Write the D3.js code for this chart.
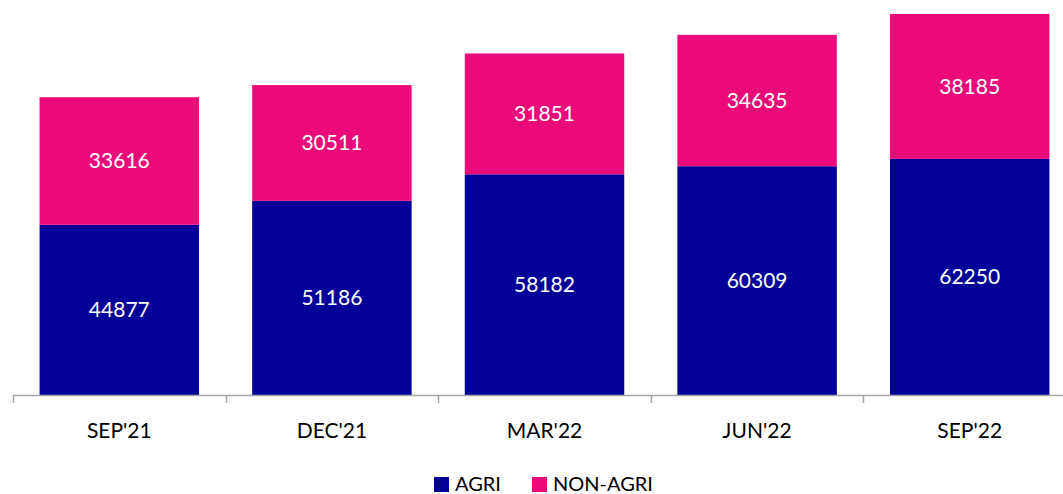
<!DOCTYPE html>
<html>
<head>
<meta charset="utf-8">
<script src="https://cdn.jsdelivr.net/npm/d3@7"></script>
<style>
  html, body { margin: 0; padding: 0; background: #fff; }
  svg { display: block; font-family: Lato, "Open Sans", sans-serif; }
</style>
</head>
<body>
<svg id="chart" width="1063" height="494"></svg>
<script>
// Quarter labels and stacked series values
const categories = ["SEP'21", "DEC'21", "MAR'22", "JUN'22", "SEP'22"];
const agri = [44877, 51186, 58182, 60309, 62250];
const nonAgri = [33616, 30511, 31851, 34635, 38185];
const seriesNames = ["AGRI", "NON-AGRI"];
const seriesColors = ["#000099", "#EC0A7A"];

const svg = d3.select("#chart");
const baseY = 395;
const plotLeft = 13;
const step = 212.6;

const rows = categories.map((c, i) => ({ cat: c, AGRI: agri[i], "NON-AGRI": nonAgri[i] }));
const stacked = d3.stack().keys(seriesNames)(rows);

const x = d3.scaleBand()
  .domain(categories)
  .range([plotLeft, plotLeft + step * categories.length])
  .paddingInner(0.25)
  .paddingOuter(0.125);

const maxTotal = d3.max(rows, r => r.AGRI + r["NON-AGRI"]);
const y = d3.scaleLinear().domain([0, maxTotal]).range([baseY, 14]);

// Stacked bars
const layers = svg.append("g").selectAll("g")
  .data(stacked)
  .join("g")
  .attr("fill", (d, i) => seriesColors[i]);

layers.selectAll("rect")
  .data(d => d.map(p => ({ p, key: d.key })))
  .join("rect")
  .attr("x", d => x(d.p.data.cat))
  .attr("width", x.bandwidth())
  .attr("y", d => y(d.p[1]))
  .attr("height", d => y(d.p[0]) - y(d.p[1]));

// Value labels centred in each segment
layers.selectAll("text")
  .data(d => d.map(p => ({ p, key: d.key })))
  .join("text")
  .attr("x", d => x(d.p.data.cat) + x.bandwidth() / 2)
  .attr("y", d => (y(d.p[0]) + y(d.p[1])) / 2)
  .attr("dy", "0.35em")
  .attr("text-anchor", "middle")
  .attr("fill", "#ffffff")
  .attr("font-size", 21)
  .text(d => d.p.data[d.key]);

// Category axis with boundary ticks between groups
const axisG = svg.append("g");
axisG.append("line")
  .attr("x1", plotLeft).attr("x2", plotLeft + step * categories.length)
  .attr("y1", baseY + 0.5).attr("y2", baseY + 0.5)
  .attr("stroke", "#A6A6A6").attr("stroke-width", 1.5);
d3.range(categories.length + 1).forEach(i => {
  const tx = Math.round(plotLeft + step * i) + 0.5;
  axisG.append("line")
    .attr("x1", tx).attr("x2", tx)
    .attr("y1", baseY).attr("y2", baseY + 8)
    .attr("stroke", "#A6A6A6").attr("stroke-width", 1.5);
});
axisG.selectAll("text")
  .data(categories)
  .join("text")
  .attr("x", d => x(d) + x.bandwidth() / 2)
  .attr("y", 431)
  .attr("dy", "0.35em")
  .attr("text-anchor", "middle")
  .attr("fill", "#000")
  .attr("font-size", 21)
  .text(d => d);

// Legend
const legend = svg.append("g");
const legendItems = [{ x: 434 }, { x: 532 }];
seriesNames.forEach((name, i) => {
  const lx = legendItems[i].x;
  legend.append("rect")
    .attr("x", lx).attr("y", 477)
    .attr("width", 15).attr("height", 15)
    .attr("fill", seriesColors[i]);
  legend.append("text")
    .attr("x", lx + 21).attr("y", 484)
    .attr("dy", "0.35em")
    .attr("fill", "#000")
    .attr("font-size", 20)
    .text(name);
});
</script>
</body>
</html>
